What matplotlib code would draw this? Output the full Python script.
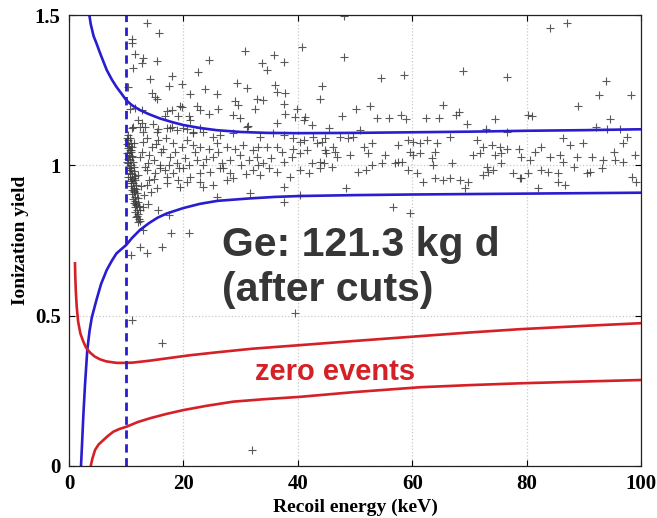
import matplotlib
matplotlib.use("Agg")
import matplotlib.pyplot as plt

# Data

# dense column of events just above the 10 keV threshold
column_x = [10.1, 10.4, 10.7, 10.2, 10.5, 10.9, 10.3, 10.6, 11.0, 10.2, 10.5, 10.8,
            11.1, 10.3, 10.7, 11.0, 10.4, 10.8, 11.2, 10.5, 10.9, 11.3, 10.6, 11.0,
            11.4, 10.7, 11.1, 11.5, 10.8, 11.2, 11.6, 10.9, 11.3, 11.7, 11.0, 11.4,
            11.8, 11.1, 11.5, 11.9, 11.2, 11.6, 12.0, 11.3, 11.7, 12.1, 11.5, 11.9,
            12.3, 11.6, 12.0, 12.4, 11.8, 12.2, 10.2, 10.6, 10.4, 10.8, 11.3, 11.7,
            12.5, 12.1, 11.9, 10.3, 10.9, 11.4]
column_y = [1.092, 1.085, 1.090, 1.072, 1.066, 1.075, 1.058, 1.050, 1.061, 1.041, 1.035, 1.044,
            1.030, 1.022, 1.018, 1.027, 1.008, 1.001, 1.012, 0.992, 0.985, 0.996, 0.975, 0.970,
            0.981, 0.962, 0.955, 0.966, 0.948, 0.941, 0.951, 0.932, 0.926, 0.936, 0.918, 0.911,
            0.922, 0.904, 0.896, 0.908, 0.889, 0.882, 0.893, 0.874, 0.868, 0.879, 0.860, 0.853,
            0.864, 0.845, 0.838, 0.850, 0.828, 0.822, 1.010, 0.990, 0.960, 0.940, 0.915, 0.870,
            0.815, 0.810, 0.832, 1.100, 1.052, 0.957]

# events inside the electron-recoil band
band_x = [11.0, 12.4, 13.0, 15.3, 17.1, 18.0, 20.0, 21.7, 23.5, 25.2, 26.4, 28.7, 31.1, 33.4,
          35.7, 37.5, 39.2, 41.0, 42.7, 44.8,
          11.3, 13.0, 14.5, 15.6, 16.5, 18.2, 19.7, 20.6, 21.7, 22.9, 24.4, 25.8, 27.6, 29.0,
          30.5, 32.2, 33.1, 34.6, 36.3, 37.2, 39.2, 40.4, 41.6, 43.3, 44.8,
          12.4, 13.9, 14.8, 15.9, 17.7, 18.8, 20.3, 22.3, 23.5, 25.2, 26.7, 28.2, 29.9, 31.4,
          32.8, 34.0, 35.4, 37.5, 38.9, 40.4, 42.4, 43.9,
          12.1, 13.6, 15.0, 15.9, 17.1, 18.2, 20.0, 21.2, 22.9, 24.7, 26.4, 28.2, 28.7, 32.2,
          33.4, 36.3, 38.6, 40.4, 41.9, 43.9,
          13.6, 15.3, 17.1, 19.4, 20.6, 22.9, 23.5, 25.2, 27.6, 37.5, 31.6, 40.4,
          12.8, 13.3, 14.0, 14.9, 16.0, 16.8, 17.5, 18.6, 19.2, 13.7, 15.2, 16.9, 12.6, 13.2,
          14.4, 12.9, 14.0, 19.0, 21.0, 22.0, 24.0, 26.0, 27.0, 30.0, 31.0, 33.0, 35.0,
          44.2, 46.2, 47.4, 48.8, 49.7, 51.5, 52.9, 57.6, 59.3, 60.2, 61.4, 62.5, 64.3, 66.6,
          71.3, 72.4, 73.9, 75.3, 76.5, 78.6, 82.6, 87.6, 89.9, 95.2, 96.9,
          45.0, 46.5, 46.8, 49.1, 52.3, 55.2, 57.6, 59.6, 60.2, 61.4, 63.4, 64.0, 70.7, 71.8,
          74.5, 75.6, 79.1, 80.6, 81.5, 84.1, 85.8, 88.8, 91.4, 93.4, 95.5, 96.9, 99.0,
          44.5, 45.9, 50.6, 52.0, 52.9, 54.7, 57.0, 58.2, 59.3, 60.8, 63.7, 66.9, 73.0, 73.3,
          74.2, 75.6, 77.7, 79.1, 80.3, 82.6, 83.8, 85.5, 86.4, 88.2, 90.5, 91.1, 93.1, 98.4, 99.2,
          61.9, 64.0, 65.4, 66.6, 68.4, 69.8, 69.2, 72.4, 78.8, 82.0, 85.5, 86.7, 48.5]
band_y = [1.123, 1.128, 1.112, 1.112, 1.123, 1.128, 1.123, 1.106, 1.112, 1.095, 1.101, 1.106,
          1.128, 1.095, 1.106, 1.101, 1.090, 1.084, 1.095, 1.090,
          1.073, 1.079, 1.062, 1.084, 1.056, 1.073, 1.062, 1.084, 1.067, 1.062, 1.056, 1.073,
          1.062, 1.056, 1.067, 1.051, 1.062, 1.062, 1.062, 1.045, 1.056, 1.079, 1.051, 1.073, 1.051,
          1.029, 1.007, 1.018, 1.001, 1.029, 1.007, 1.023, 1.018, 1.001, 1.029, 1.007, 1.018,
          1.034, 1.018, 1.029, 1.007, 1.023, 1.012, 1.029, 1.040, 1.007, 1.012,
          0.968, 0.984, 0.973, 0.990, 0.962, 0.973, 0.990, 0.962, 0.973, 0.979, 0.990, 0.973,
          0.957, 0.984, 0.968, 0.979, 0.962, 0.984, 0.973, 0.990,
          0.934, 0.923, 0.940, 0.929, 0.946, 0.946, 0.929, 0.934, 0.951, 0.929, 0.907, 0.901,
          1.045, 0.995, 1.035, 0.955, 1.045, 0.985, 1.000, 1.045, 0.990, 1.090, 1.070, 1.090,
          0.930, 0.900, 0.910, 0.860, 0.950, 0.950, 1.000, 1.045, 1.020, 1.045, 0.990, 1.000,
          0.970, 1.000, 0.990,
          1.079, 1.062, 1.095, 1.090, 1.095, 1.062, 1.073, 1.068, 1.084, 1.079, 1.073, 1.084,
          1.073, 1.095, 1.084, 1.062, 1.068, 1.062, 1.056, 1.056, 1.062, 1.068, 1.073, 1.045, 1.073,
          1.040, 1.045, 1.029, 1.034, 1.040, 1.034, 1.012, 1.045, 1.034, 1.040, 1.023, 1.045,
          1.034, 1.040, 1.034, 1.040, 1.029, 1.018, 1.045, 1.029, 1.034, 1.029, 1.029, 1.018,
          1.018, 1.012, 1.034,
          1.007, 0.995, 0.979, 0.984, 1.001, 1.007, 1.007, 1.012, 0.984, 0.973, 1.001, 1.007,
          0.995, 0.979, 0.984, 1.007, 0.973, 0.957, 0.973, 0.984, 0.979, 0.973, 1.012, 0.995,
          0.973, 0.979, 0.990, 0.962, 0.946,
          0.946, 0.957, 0.951, 0.957, 0.951, 0.946, 0.923, 0.968, 0.957, 0.923, 0.946, 0.935, 0.923]

# events above and below the band
outlier_x = [13.6, 15.8, 11.0, 11.1, 11.5, 12.9, 12.7, 15.4, 11.2, 22.6, 24.5, 14.2, 18.0,
             17.4, 19.7, 10.4, 14.5, 15.0, 15.4, 10.7, 11.5, 12.7, 19.7, 22.3, 17.1, 18.0,
             22.9, 16.8, 19.1, 20.9, 21.2, 12.1, 12.7, 11.2, 13.3, 14.7, 15.6, 17.7, 18.8,
             20.6, 21.7, 22.9,
             30.8, 40.7, 35.8, 37.5, 33.7, 34.6, 29.3, 31.1, 36.0, 36.3, 37.8, 44.2, 43.9,
             23.8, 25.8, 21.2, 29.0, 29.6, 32.8, 34.0, 32.5, 37.5, 39.8, 37.8, 39.5, 41.3,
             19.4, 26.1, 24.4, 28.7, 29.9, 31.3, 36.3, 41.0, 42.4,
             48.1, 84.0, 87.1, 48.0, 54.5, 58.6, 68.8, 76.6, 93.9, 92.6, 98.2, 89.0, 47.8,
             50.2, 52.7, 53.8, 56.0, 58.0, 58.9, 62.4, 64.7, 65.3, 67.7, 68.2, 69.5, 74.5,
             72.9, 80.3, 80.9, 94.5, 92.1, 94.0, 96.3, 45.5, 50.8, 76.5, 86.4, 97.5,
             13.0, 17.9, 20.9, 16.2, 12.4, 13.6, 10.8, 15.6, 17.4, 13.9, 11.0, 16.2, 39.5,
             32.0, 56.6, 59.7, 25.8, 37.5]
outlier_y = [1.472, 1.439, 1.420, 1.408, 1.372, 1.356, 1.339, 1.348, 1.323, 1.310, 1.352, 1.286,
             1.297, 1.264, 1.270, 1.261, 1.239, 1.226, 1.220, 1.186, 1.190, 1.184, 1.193, 1.197,
             1.182, 1.184, 1.184, 1.164, 1.164, 1.164, 1.151, 1.151, 1.140, 1.127, 1.128, 1.136,
             1.120, 1.123, 1.117, 1.120, 1.112, 1.123,
             1.381, 1.394, 1.368, 1.345, 1.339, 1.317, 1.273, 1.256, 1.267, 1.245, 1.240, 1.264,
             1.220, 1.253, 1.236, 1.236, 1.213, 1.202, 1.222, 1.217, 1.189, 1.205, 1.189, 1.172,
             1.162, 1.162, 1.196, 1.189, 1.172, 1.167, 1.156, 1.131, 1.140, 1.151, 1.134,
             1.498, 1.456, 1.472, 1.359, 1.289, 1.300, 1.315, 1.293, 1.280, 1.234, 1.234, 1.196,
             1.164, 1.189, 1.196, 1.156, 1.156, 1.167, 1.153, 1.156, 1.156, 1.200, 1.167, 1.178,
             1.137, 1.153, 1.120, 1.167, 1.164, 1.153, 1.127, 1.120, 1.120, 1.123, 1.117, 1.112,
             1.090, 1.095,
             0.785, 0.774, 0.774, 0.729, 0.729, 0.707, 0.702, 0.851, 0.835, 0.873, 0.486, 0.410,
             0.510, 0.053, 0.862, 0.842, 0.896, 0.879]

# electron-recoil band limits (blue)
er_hi_x = [3.4, 3.8, 4.3, 4.8, 5.5, 6.6, 7.5, 8.3, 9.2, 10.0, 11.0, 12.4, 14.0, 15.9, 18.0,
           20.0, 23.0, 25.8, 30.0, 34.6, 40.0, 50.0, 60.0, 70.0, 80.0, 90.0, 100.0]
er_hi_y = [1.52, 1.47, 1.43, 1.406, 1.37, 1.317, 1.285, 1.261, 1.238, 1.217, 1.200, 1.184,
           1.170, 1.156, 1.144, 1.134, 1.124, 1.117, 1.111, 1.108, 1.107, 1.108, 1.110, 1.112,
           1.115, 1.117, 1.120]
er_lo_x = [2.1, 2.3, 2.5, 2.8, 3.2, 3.6, 4.0, 4.8, 5.6, 6.6, 7.5, 8.3, 9.2, 10.0, 11.0, 12.4,
           14.0, 15.5, 17.1, 20.0, 22.9, 26.0, 31.6, 36.0, 40.4, 50.0, 60.0, 80.0, 100.0]
er_lo_y = [0.0, 0.08, 0.164, 0.27, 0.386, 0.45, 0.495, 0.552, 0.605, 0.652, 0.683, 0.707,
           0.722, 0.735, 0.758, 0.785, 0.808, 0.826, 0.840, 0.858, 0.872, 0.882, 0.890, 0.895,
           0.898, 0.901, 0.903, 0.906, 0.909]

# nuclear-recoil band limits (red)
nr_hi_x = [1.05, 1.1, 1.2, 1.35, 1.6, 2.0, 2.5, 3.0, 3.7, 4.5, 5.4, 6.5, 8.3, 10.0, 11.2,
           14.0, 17.1, 21.0, 25.8, 32.0, 40.4, 50.0, 61.4, 70.0, 78.8, 90.0, 100.0]
nr_hi_y = [0.674, 0.63, 0.58, 0.53, 0.48, 0.44, 0.414, 0.393, 0.377, 0.364, 0.355, 0.348,
           0.343, 0.343, 0.344, 0.350, 0.358, 0.368, 0.378, 0.390, 0.402, 0.416, 0.432, 0.444,
           0.455, 0.466, 0.475]
nr_lo_x = [3.8, 4.1, 4.55, 5.2, 6.0, 6.8, 7.75, 8.8, 10.1, 12.0, 14.2, 17.0, 20.0, 24.0,
           28.7, 34.0, 40.4, 50.0, 61.4, 70.0, 78.8, 90.0, 100.0]
nr_lo_y = [0.0, 0.025, 0.053, 0.072, 0.086, 0.100, 0.114, 0.123, 0.131, 0.146, 0.159,
           0.173, 0.186, 0.200, 0.214, 0.222, 0.230, 0.246, 0.262, 0.269, 0.275, 0.281, 0.286]

threshold = 10.0

BLUE = "#2a1ccf"
RED = "#d42026"

fig = plt.figure(figsize=(6.57, 5.18), dpi=100)
ax = fig.add_axes([0.105, 0.1004, 0.8707, 0.8706])

ax.grid(True, color="#c9c9c9", linestyle=":", linewidth=0.9)

mk = dict(marker="+", linestyle="none", color="#3c3c3c", markersize=6,
          markeredgewidth=0.8, alpha=0.85)
ax.plot(band_x, band_y, **mk)
ax.plot(outlier_x, outlier_y, **mk)
ax.plot(column_x, column_y, **mk)

ax.plot(er_hi_x, er_hi_y, color=BLUE, linewidth=1.9)
ax.plot(er_lo_x, er_lo_y, color=BLUE, linewidth=1.9)
ax.plot(nr_hi_x, nr_hi_y, color=RED, linewidth=1.9)
ax.plot(nr_lo_x, nr_lo_y, color=RED, linewidth=1.9)

ax.axvline(threshold, color=BLUE, linestyle=(0, (3, 2)), linewidth=2.0)

ax.text(26.7, 0.70, "Ge: 121.3 kg d", family="Liberation Sans", fontweight="bold",
        fontsize=29.5, color="#363636")
ax.text(26.7, 0.548, "(after cuts)", family="Liberation Sans", fontweight="bold",
        fontsize=29.5, color="#363636")
ax.text(32.5, 0.286, "zero events", family="Liberation Sans", fontweight="bold",
        fontsize=21, color=RED)

ax.set_xlim(0, 100)
ax.set_ylim(0, 1.5)
ax.set_xticks([0, 20, 40, 60, 80, 100])
ax.set_yticks([0, 0.5, 1, 1.5])
ax.set_yticklabels(["0", "0.5", "1", "1.5"])
ax.tick_params(direction="in", top=True, right=True, length=4, width=0.8, pad=6)
for lab in ax.get_xticklabels() + ax.get_yticklabels():
    lab.set_family("Liberation Serif")
    lab.set_fontweight("bold")
    lab.set_fontsize(15)

ax.set_xlabel("Recoil energy (keV)", family="Liberation Serif", fontweight="bold",
              fontsize=14, labelpad=3)
ax.set_ylabel("Ionization yield", family="Liberation Serif", fontweight="bold",
              fontsize=14, labelpad=4)

for s in ax.spines.values():
    s.set_linewidth(0.9)
    s.set_color("#222222")

fig.savefig("out.png", dpi=100)
